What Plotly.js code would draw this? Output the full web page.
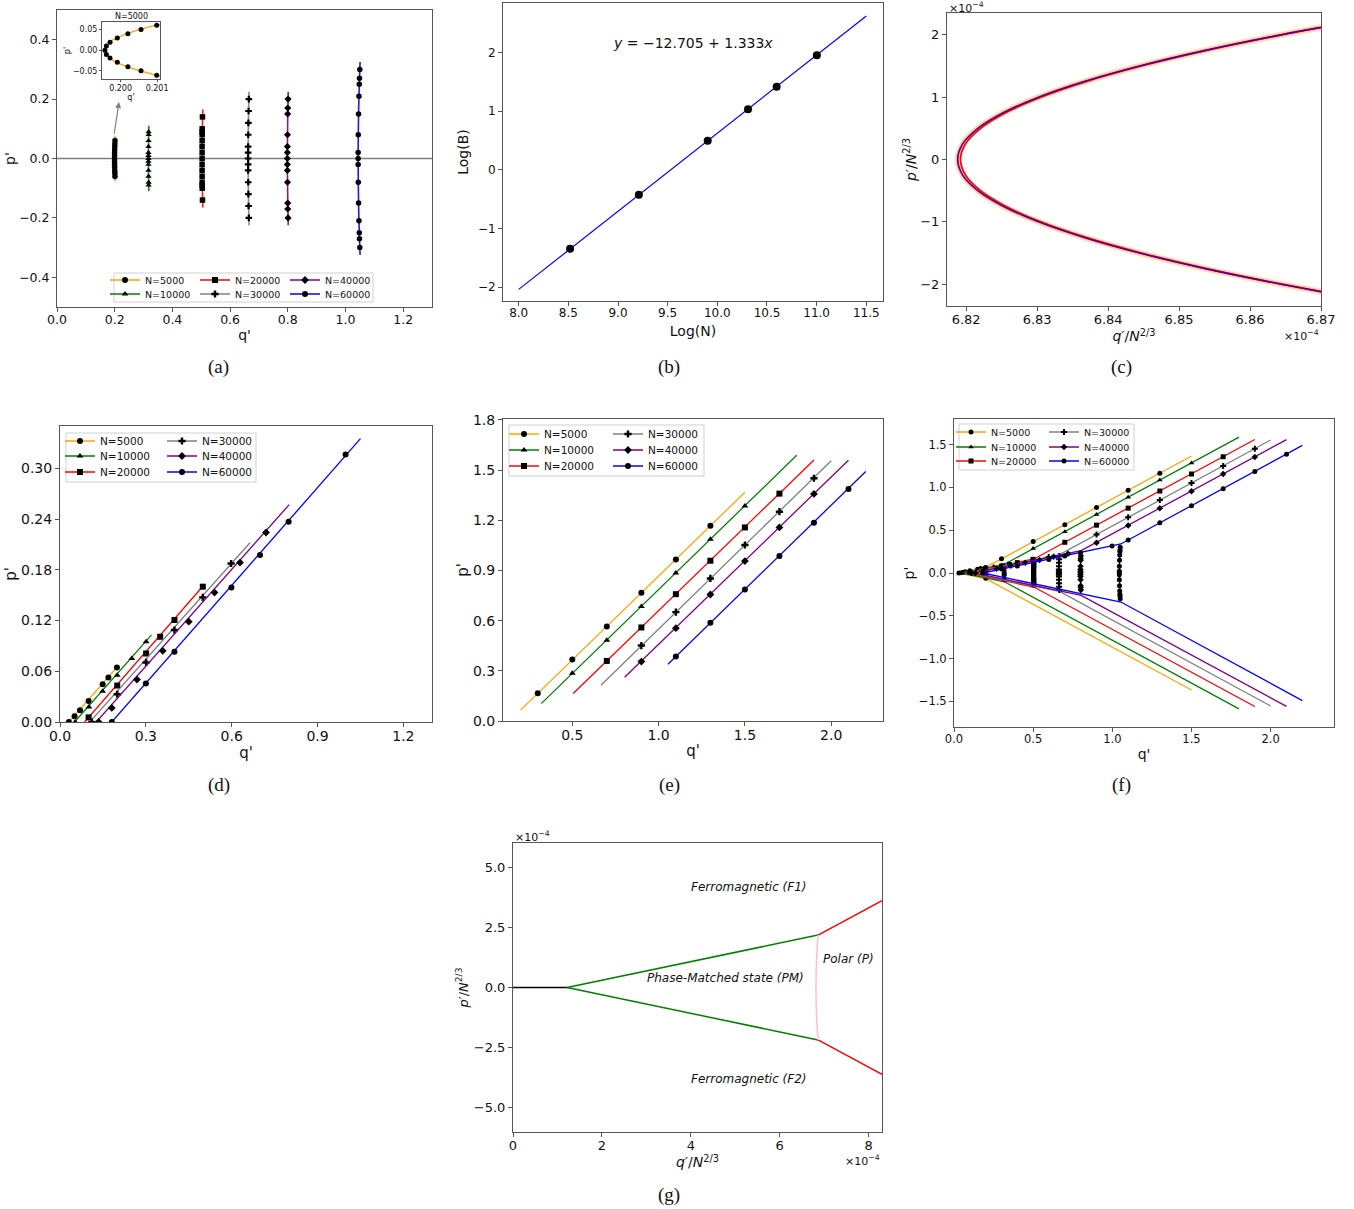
<!DOCTYPE html>
<html><head><meta charset="utf-8">
<script src="https://cdn.plot.ly/plotly-3.0.1.min.js"></script>
<style>html,body{margin:0;padding:0;background:#fff}#chart{width:1354px;height:1209px}</style>
</head><body><div id="chart"></div>
<script>
// ---------------- DATA ----------------
const seriesNames = ['N=5000','N=10000','N=20000','N=30000','N=40000','N=60000'];
const seriesColors = ['orange','green','red','gray','purple','blue'];
const seriesSymbols = ['circle','triangle-up','square','cross','diamond','circle'];

// (a) vertical segments: marker points (q', p')
const aPtsP = [
  [0.0608,0.05,0.04,0.0296,0.0192,0.0104,0,-0.0104,-0.0192,-0.0296,-0.04,-0.05,-0.0608],
  [0.09,0.08,0.06,0.04,0.02,0.01,0,-0.01,-0.02,-0.04,-0.06,-0.08,-0.09],
  [0.14,0.1,0.09,0.08,0.06,0.04,0.02,0,-0.02,-0.04,-0.06,-0.08,-0.09,-0.1,-0.14],
  [0.2,0.16,0.12,0.08,0.04,0.02,0,-0.02,-0.04,-0.08,-0.12,-0.16,-0.2],
  [0.2,0.17,0.15,0.08,0.04,0.02,0,-0.02,-0.04,-0.08,-0.15,-0.17,-0.2],
  [0.3,0.27,0.25,0.21,0.15,0.08,0.02,0,-0.02,-0.08,-0.15,-0.21,-0.25,-0.27,-0.3]
];
const aPtsQ = [
  [0.20099,0.20056,0.2002,0.19991,0.19971,0.19961,0.19957,0.19961,0.19971,0.19991,0.2002,0.20056,0.20099],
  [0.3177,0.3176,0.3173,0.3171,0.317,0.317,0.317,0.317,0.317,0.3171,0.3173,0.3176,0.3177],
  [0.5043,0.5034,0.5033,0.5032,0.5031,0.503,0.503,0.503,0.503,0.503,0.5031,0.5032,0.5033,0.5034,0.5043],
  [0.665,0.6641,0.6635,0.6629,0.6626,0.6625,0.6625,0.6625,0.6626,0.6629,0.6635,0.6641,0.665],
  [0.801,0.8,0.7998,0.7991,0.7987,0.7986,0.7985,0.7986,0.7987,0.7991,0.7998,0.8,0.801],
  [1.0497,1.0486,1.0479,1.0468,1.0454,1.0444,1.044,1.044,1.044,1.0444,1.0454,1.0468,1.0479,1.0486,1.0497]
];
// (a) curves through the segments
const aCurveP = [
  [-0.077,-0.06,-0.04,-0.02,0,0.02,0.04,0.06,0.077],
  [-0.11,-0.055,0,0.055,0.11],
  [-0.165,-0.08,0,0.08,0.165],
  [-0.225,-0.11,0,0.11,0.225],
  [-0.225,-0.11,0,0.11,0.225],
  [-0.325,-0.16,0,0.16,0.325]
];
const aCurveQ = [
  [0.20185,0.20095,0.20018,0.19972,0.19957,0.19972,0.20018,0.20095,0.20185],
  [0.3185,0.3174,0.317,0.3174,0.3185],
  [0.5055,0.5036,0.503,0.5036,0.5055],
  [0.6655,0.6634,0.6625,0.6634,0.6655],
  [0.8015,0.7995,0.7985,0.7995,0.8015],
  [1.0507,1.0456,1.044,1.0456,1.0507]
];

// (b) log-log fit
const bLogN = [8.517, 9.210, 9.903, 10.309, 10.597, 11.002];
const bLogB = [-1.346, -0.424, 0.498, 1.033, 1.42, 1.954];
const bFitX = [8.0, 11.5];
const bFitY = [-2.041, 2.625];
const bEquation = '<i>y</i> = −12.705 + 1.333<i>x</i>';

// (c) scaled curves (units of 1e-4)
const cP = [-2.2,-2,-1.75,-1.5,-1.25,-1,-0.75,-0.5,-0.25,0,0.25,0.5,0.75,1,1.25,1.5,1.75,2,2.2];
const cQOuter = [6.87398,6.8644,6.85371,6.84445,6.83661,6.8302,6.82521,6.82165,6.81951,6.8188,6.81951,6.82165,6.82521,6.8302,6.83661,6.84445,6.85371,6.8644,6.87398];
const cQInner = [6.87394,6.86444,6.85384,6.84465,6.83687,6.83051,6.82556,6.82203,6.81991,6.8192,6.81991,6.82203,6.82556,6.83051,6.83687,6.84465,6.85384,6.86444,6.87394];

// (d) low-q branch
const dPtsQ = [
  [0.031,0.051,0.070,0.100,0.149,0.169,0.199],
  [0.053,0.101,0.149,0.2,0.251,0.301],
  [0.1,0.2,0.301,0.35,0.4,0.499],
  [0.111,0.2,0.301,0.4,0.499,0.598],
  [0.135,0.181,0.269,0.359,0.45,0.54,0.629,0.72],
  [0.181,0.3,0.4,0.599,0.699,0.799,0.998]
];
const dPtsP = [
  [0,0.0067,0.0138,0.0249,0.0447,0.0526,0.0644],
  [0,0.0178,0.0364,0.0553,0.0751,0.0949],
  [0.0055,0.0431,0.081,0.1008,0.1206,0.16],
  [0,0.0328,0.0704,0.1087,0.1474,0.1874],
  [0,0.0166,0.0502,0.0842,0.1186,0.153,0.1885,0.2241],
  [0,0.0455,0.083,0.1589,0.1976,0.2368,0.3162]
];
const dLineQ = [[0.031,0.2],[0.051,0.32],[0.086,0.503],[0.104,0.664],[0.127,0.801],[0.181,1.05]];
const dLineP = [[0,0.065],[0,0.103],[0,0.162],[0,0.212],[0,0.257],[0,0.335]];

// (e) high-q branch
const ePtsQ = [
  [0.3,0.5,0.7,0.9,1.1,1.3],[0.5,0.7,0.9,1.1,1.3,1.5],[0.7,0.9,1.1,1.3,1.5,1.7],
  [0.9,1.1,1.3,1.5,1.7,1.9],[0.9,1.1,1.3,1.5,1.7,1.9],[1.1,1.3,1.5,1.7,1.9,2.1]
];
const ePtsP = [
  [0.166,0.367,0.565,0.766,0.966,1.167],[0.285,0.483,0.684,0.884,1.086,1.285],
  [0.359,0.559,0.758,0.958,1.157,1.359],[0.451,0.651,0.852,1.052,1.251,1.451],
  [0.355,0.555,0.756,0.956,1.157,1.357],[0.385,0.587,0.786,0.986,1.185,1.387]
];
const eLineQ = [[0.2,1.5],[0.32,1.8],[0.505,1.9],[0.666,2.0],[0.803,2.1],[1.054,2.2]];
const eLineP = [[0.065,1.367],[0.104,1.588],[0.164,1.56],[0.214,1.555],[0.261,1.559],[0.339,1.491]];

// (g) phase diagram (units of 1e-4)
const gBlackQ = [0, 1.215], gBlackP = [0, 0];
const gGreenQ = [1.215, 6.862], gGreenP = [0, 2.176];
const gRedQ = [6.862, 8.3], gRedP = [2.176, 3.61];
const gPinkP = [-2.176,-1.5,-1,-0.5,0,0.5,1,1.5,2.176];
const gPinkQ = [6.862,6.837,6.825,6.8175,6.815,6.8175,6.825,6.837,6.862];
const gLabels = ['Ferromagnetic (F1)','Phase-Matched state (PM)','Polar (P)','Ferromagnetic (F2)'];
const gLabelQ = [5.30, 4.77, 7.556, 5.30];
const gLabelP = [4.17, 0.386, 1.18, -3.815];

const captions = ['(a)','(b)','(c)','(d)','(e)','(f)','(g)'];

// ---------------- BUILD ----------------
const W = 1354, H = 1209;
const FONT = 'DejaVu Sans';
const SERIF = 'Liberation Serif';
const xd = (a,b) => [a/W, b/W];
const yd = (t,b) => [1-b/H, 1-t/H];
const neg = arr => arr.map(v => v === null ? null : -v);

const traces = [];
function add(t){ t.type='scatter'; t.hoverinfo='skip'; if(t.showlegend===undefined) t.showlegend=false; traces.push(t); }
function legendItem(i, xa, ya, lg, ms){
  add({x:[null], y:[null], xaxis:xa, yaxis:ya, mode:'lines+markers', name:seriesNames[i], legend:lg, showlegend:true,
       line:{color:seriesColors[i], width:1.5}, marker:{color:'black', symbol:seriesSymbols[i], size:ms}});
}

// (a)
for (let i=0;i<6;i++){
  add({x:aCurveQ[i], y:aCurveP[i], xaxis:'x', yaxis:'y', mode:'lines', line:{color:seriesColors[i], width:1.6, shape:'spline'}, opacity:0.9});
  add({x:aPtsQ[i], y:aPtsP[i], xaxis:'x', yaxis:'y', mode:'markers', marker:{color:'black', symbol:seriesSymbols[i], size:5.5}});
}
[[0,2,4,'legend'],[1,3,5,'legend2']].forEach(r => { for(let k=0;k<3;k++) legendItem(r[k],'x','y',r[3],6); });
// inset
add({x:aCurveQ[0], y:aCurveP[0], xaxis:'x2', yaxis:'y2', mode:'lines', line:{color:'orange', width:1.3, shape:'spline'}});
add({x:aPtsQ[0], y:aPtsP[0], xaxis:'x2', yaxis:'y2', mode:'markers', marker:{color:'black', size:5}});

// (b)
add({x:bFitX, y:bFitY, xaxis:'x3', yaxis:'y3', mode:'lines', line:{color:'blue', width:1.2}});
add({x:bLogN, y:bLogB, xaxis:'x3', yaxis:'y3', mode:'markers', marker:{color:'black', size:8}});

// (c)
add({x:cQOuter, y:cP, xaxis:'x4', yaxis:'y4', mode:'lines', line:{color:'rgba(255,165,0,0.28)', width:6.5, shape:'spline'}});
add({x:cQOuter, y:cP, xaxis:'x4', yaxis:'y4', mode:'lines', line:{color:'rgba(255,100,120,0.3)', width:4, shape:'spline'}});
add({x:cQInner, y:cP, xaxis:'x4', yaxis:'y4', mode:'lines', line:{color:'red', width:1.8, shape:'spline'}});
add({x:cQOuter, y:cP, xaxis:'x4', yaxis:'y4', mode:'lines', line:{color:'purple', width:1.6, shape:'spline'}});
add({x:cQOuter, y:cP, xaxis:'x4', yaxis:'y4', mode:'lines', line:{color:'rgba(0,0,200,0.45)', width:1, shape:'spline'}});

// (d)
for (let i=0;i<6;i++){
  add({x:dLineQ[i], y:dLineP[i], xaxis:'x5', yaxis:'y5', mode:'lines', line:{color:seriesColors[i], width:1.3}});
  add({x:dPtsQ[i], y:dPtsP[i], xaxis:'x5', yaxis:'y5', mode:'markers', marker:{color:'black', symbol:seriesSymbols[i], size:6}});
}
[[0,3,'legend3'],[1,4,'legend4'],[2,5,'legend5']].forEach(r => { legendItem(r[0],'x5','y5',r[2],6); legendItem(r[1],'x5','y5',r[2],6); });

// (e)
for (let i=0;i<6;i++){
  add({x:eLineQ[i], y:eLineP[i], xaxis:'x6', yaxis:'y6', mode:'lines', line:{color:seriesColors[i], width:1.3}});
  add({x:ePtsQ[i], y:ePtsP[i], xaxis:'x6', yaxis:'y6', mode:'markers', marker:{color:'black', symbol:seriesSymbols[i], size:6}});
}
[[0,3,'legend6'],[1,4,'legend7'],[2,5,'legend8']].forEach(r => { legendItem(r[0],'x6','y6',r[2],6); legendItem(r[1],'x6','y6',r[2],6); });

// (f)
for (let i=0;i<6;i++){
  const upQ = dLineQ[i].concat(eLineQ[i]);
  const upP = dLineP[i].concat(eLineP[i]);
  add({x:upQ.concat([null], upQ, [null], aCurveQ[i]), y:upP.concat([null], neg(upP), [null], aCurveP[i]),
       xaxis:'x7', yaxis:'y7', mode:'lines', line:{color:seriesColors[i], width:1.3}});
  add({x:dPtsQ[i].concat(aPtsQ[i], ePtsQ[i]), y:dPtsP[i].concat(aPtsP[i], ePtsP[i]),
       xaxis:'x7', yaxis:'y7', mode:'markers', marker:{color:'black', symbol:seriesSymbols[i], size:5}});
}
[[0,3,'legend9'],[1,4,'legend10'],[2,5,'legend11']].forEach(r => { legendItem(r[0],'x7','y7',r[2],5); legendItem(r[1],'x7','y7',r[2],5); });

// (g)
add({x:gBlackQ, y:gBlackP, xaxis:'x8', yaxis:'y8', mode:'lines', line:{color:'black', width:1.5}});
add({x:gGreenQ.concat([null], gGreenQ), y:gGreenP.concat([null], neg(gGreenP)), xaxis:'x8', yaxis:'y8', mode:'lines', line:{color:'green', width:1.5}});
add({x:gRedQ.concat([null], gRedQ), y:gRedP.concat([null], neg(gRedP)), xaxis:'x8', yaxis:'y8', mode:'lines', line:{color:'red', width:1.5}});
add({x:gPinkQ, y:gPinkP, xaxis:'x8', yaxis:'y8', mode:'lines', line:{color:'pink', width:1.5, shape:'spline'}});

// ---------------- LAYOUT ----------------
function axis(domain, range, o){
  const a = {domain, range, showline:true, mirror:true, linecolor:'#555', linewidth:1, ticks:'outside', ticklen:4,
    tickwidth:1, tickcolor:'#555', showgrid:false, zeroline:false, automargin:false, fixedrange:true,
    tickfont:{family:FONT, size:12, color:'#111'}};
  return Object.assign(a, o);
}
function ttl(text, size, standoff){ return {text, font:{family:FONT, size, color:'#111'}, standoff}; }
function tf(size){ return {family:FONT, size, color:'#111'}; }
const XS = -3; // pull x tick labels slightly closer to the axis

const layout = {
  width:W, height:H, margin:{l:0,r:0,t:0,b:0}, paper_bgcolor:'#fff', plot_bgcolor:'#fff', showlegend:true,
  font:{family:FONT, color:'#111'},
  xaxis: axis(xd(57,432), [0,1.3], {anchor:'y', tick0:0, dtick:0.2, tickformat:'.1f', ticklabelstandoff:XS, tickfont:tf(12.5), title:ttl("q'",14,3)}),
  yaxis: axis(yd(10,307), [-0.5,0.5], {anchor:'x', tick0:0, dtick:0.2, tickformat:'.1f', tickfont:tf(12.5), title:ttl("p'",14,0)}),
  xaxis2: axis(xd(102,160), [0.19949,0.20108], {anchor:'y2', tickvals:[0.2,0.201], tickformat:'.3f', ticklen:2, ticklabelstandoff:-1, tickfont:tf(8), title:ttl("q'",8,1)}),
  yaxis2: axis(yd(22,79), [-0.07,0.0684], {anchor:'x2', tickvals:[-0.05,0,0.05], tickformat:'.2f', ticklen:2, tickfont:tf(8), title:ttl("p'",8,1)}),
  xaxis3: axis(xd(503,883), [7.842,11.668], {anchor:'y3', tick0:8, dtick:0.5, tickformat:'.1f', ticklabelstandoff:XS, tickfont:tf(12), title:ttl('Log(N)',14,6)}),
  yaxis3: axis(yd(3,301), [-2.239,2.848], {anchor:'x3', tick0:0, dtick:1, tickfont:tf(12), title:ttl('Log(B)',14,5)}),
  xaxis4: axis(xd(947,1321), [6.8173,6.87], {anchor:'y4', tickvals:[6.82,6.83,6.84,6.85,6.86,6.87], tickformat:'.2f', ticklabelstandoff:XS, tickfont:tf(13), title:ttl('<i>q′</i>/<i>N</i><sup>2/3</sup>',14,2)}),
  yaxis4: axis(yd(13,306), [-2.35,2.35], {anchor:'x4', tick0:0, dtick:1, tickfont:tf(13), title:ttl('<i>p′</i>/<i>N</i><sup>2/3</sup>',14,0)}),
  xaxis5: axis(xd(60,432), [0,1.3], {anchor:'y5', tick0:0, dtick:0.3, tickformat:'.1f', ticklabelstandoff:XS, tickfont:tf(14), title:ttl("q'",15,3)}),
  yaxis5: axis(yd(426,722), [0,0.35], {anchor:'x5', tick0:0, dtick:0.06, tickformat:'.2f', tickfont:tf(14), title:ttl("p'",15,0)}),
  xaxis6: axis(xd(503,883), [0.0985,2.3], {anchor:'y6', tick0:0.5, dtick:0.5, tickformat:'.1f', ticklabelstandoff:XS, tickfont:tf(14), title:ttl("q'",15,3)}),
  yaxis6: axis(yd(419,721), [0,1.805], {anchor:'x6', tick0:0, dtick:0.3, tickformat:'.1f', tickfont:tf(14), title:ttl("p'",15,0)}),
  xaxis7: axis(xd(954,1334), [0,2.4], {anchor:'y7', tick0:0, dtick:0.5, tickformat:'.1f', ticklabelstandoff:XS, tickfont:tf(11.5), title:ttl("q'",14,4)}),
  yaxis7: axis(yd(419,727), [-1.8,1.8], {anchor:'x7', tick0:0, dtick:0.5, tickformat:'.1f', tickfont:tf(11.5), title:ttl("p'",14,0)}),
  xaxis8: axis(xd(513,882), [0,8.3], {anchor:'y8', tick0:0, dtick:2, tickformat:'d', ticklabelstandoff:XS, tickfont:tf(13), title:ttl('<i>q′</i>/<i>N</i><sup>2/3</sup>',14,3)}),
  yaxis8: axis(yd(843,1132), [-6,6], {anchor:'x8', tick0:0, dtick:2.5, tickformat:'.1f', tickfont:tf(13), title:ttl('<i>p′</i>/<i>N</i><sup>2/3</sup>',13,2)}),
  shapes: [],
  annotations: []
};

function legendRow(textX, rowY, entryW, fsize){
  return {x:(textX-40)/W, y:1-(rowY-14.5)/H, xanchor:'left', yanchor:'top', orientation:'h',
    bgcolor:'rgba(0,0,0,0)', borderwidth:0, entrywidth:entryW, entrywidthmode:'pixels',
    font:{family:FONT, size:fsize, color:'#111'}};
}
layout.legend   = legendRow(145, 280, 45, 9.5);
layout.legend2  = legendRow(145, 294, 45, 9.5);
layout.legend3  = legendRow(100, 441, 57, 10.5);
layout.legend4  = legendRow(100, 456, 57, 10.5);
layout.legend5  = legendRow(100, 472, 57, 10.5);
layout.legend6  = legendRow(544, 434, 59, 10.5);
layout.legend7  = legendRow(544, 450, 59, 10.5);
layout.legend8  = legendRow(544, 466, 59, 10.5);
layout.legend9  = legendRow(991, 432, 48, 9.5);
layout.legend10 = legendRow(991, 447, 48, 9.5);
layout.legend11 = legendRow(991, 461, 48, 9.5);

function box(x0,y0,x1,y1){
  layout.shapes.push({type:'rect', xref:'paper', yref:'paper', x0:x0/W, x1:x1/W, y0:1-y1/H, y1:1-y0/H,
    fillcolor:'rgba(255,255,255,0.85)', line:{color:'#d0d0d0', width:1}, layer:'above'});
}
box(114,273,373,302);
box(66,433,256,482);
box(509,425,704,476);
box(959,424,1134,470);

// zero line in (a)
layout.shapes.push({type:'line', xref:'x domain', yref:'y', x0:0, x1:1, y0:0, y1:0, line:{color:'gray', width:1.5}, layer:'below'});

// inset title and arrow
layout.annotations.push({xref:'x2 domain', yref:'y2 domain', x:0.5, y:1, yanchor:'bottom', showarrow:false, text:'N=5000', font:tf(8), yshift:-1});
layout.annotations.push({xref:'x', yref:'y', x:0.215, y:0.19, axref:'x', ayref:'y', ax:0.1976, ay:0.079, text:'', showarrow:true, arrowhead:2, arrowsize:1, arrowwidth:1.2, arrowcolor:'gray'});
// equation (b)
layout.annotations.push({xref:'x3', yref:'y3', x:9.755, y:2.17, yanchor:'middle', text:bEquation, showarrow:false, font:tf(14)});
// exponents
const expo = '×10<sup>−4</sup>';
layout.annotations.push({xref:'paper', yref:'paper', x:947/W, y:1-7/H, xanchor:'left', yanchor:'middle', text:expo, showarrow:false, font:tf(11)});
layout.annotations.push({xref:'paper', yref:'paper', x:1321/W, y:1-335/H, xanchor:'right', yanchor:'middle', text:expo, showarrow:false, font:tf(11)});
layout.annotations.push({xref:'paper', yref:'paper', x:513/W, y:1-836/H, xanchor:'left', yanchor:'middle', text:expo, showarrow:false, font:tf(11)});
layout.annotations.push({xref:'paper', yref:'paper', x:882/W, y:1-1160/H, xanchor:'right', yanchor:'middle', text:expo, showarrow:false, font:tf(11)});
// region labels (g)
for (let i=0;i<gLabels.length;i++){
  layout.annotations.push({xref:'x8', yref:'y8', x:gLabelQ[i], y:gLabelP[i], yanchor:'middle', text:'<i>'+gLabels[i]+'</i>', showarrow:false, font:tf(12)});
}
// captions
const capX = [219,669,1121,219,669,1121,669];
const capY = [367,367,367,785,785,785,1195];
for (let i=0;i<captions.length;i++){
  layout.annotations.push({xref:'paper', yref:'paper', x:capX[i]/W, y:1-capY[i]/H, xanchor:'center', yanchor:'middle', text:captions[i], showarrow:false, font:{family:SERIF, size:19, color:'#111'}});
}

Plotly.newPlot('chart', traces, layout, {staticPlot:true, displayModeBar:false});
</script></body></html>
